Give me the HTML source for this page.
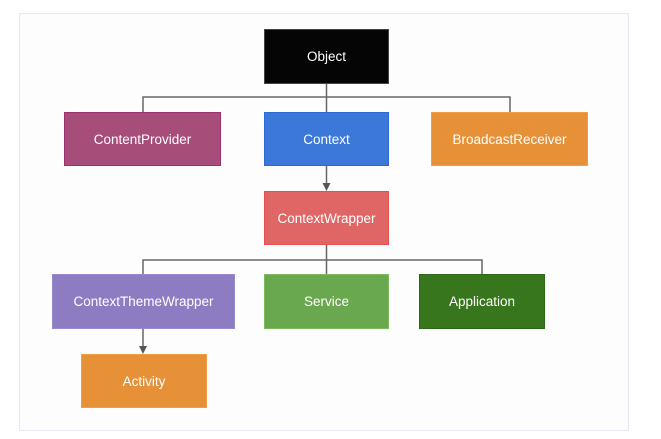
<!DOCTYPE html>
<html><head><meta charset="utf-8"><style>
body{margin:0;width:661px;height:439px;background:#fff;position:relative;overflow:hidden;font-family:"Liberation Sans",Arial,sans-serif}
.f{position:absolute;left:19px;top:13px;width:610px;height:418px;border:1px solid #e6e9f4;background:#fdfdfd;box-sizing:border-box}
.b{position:absolute;box-sizing:border-box;color:#fff;font-size:13.5px;display:flex;align-items:center;justify-content:center;border:1px solid rgba(0,0,0,.15)}
svg{position:absolute;left:0;top:0}
</style></head><body>
<div class="f"></div>
<svg width="661" height="439">
<g stroke="#666" stroke-width="1.5" fill="none">
<path d="M326.5 84V112M143 112V97H510V112"/>
<path d="M326.5 166V185"/>
<path d="M326.5 245V274M143 274V260H482V274"/>
<path d="M143 328.5V347"/>
</g>
<path d="M322.5 183L330.5 183L326.5 191Z" fill="#555"/>
<path d="M139 346L147 346L143 354Z" fill="#555"/>
</svg>
<div class="b" style="left:264px;top:29px;width:125px;height:55px;background:#050505;border-color:#444">Object</div>
<div class="b" style="left:64px;top:112px;width:157px;height:54px;background:#a64d79;border-color:#9c2f6c">ContentProvider</div>
<div class="b" style="left:264px;top:112px;width:125px;height:54px;background:#3c78d8;border-color:#2a6ad8">Context</div>
<div class="b" style="left:431px;top:112px;width:157px;height:54px;background:#e69138;border-color:#f0a040">BroadcastReceiver</div>
<div class="b" style="left:264px;top:191px;width:125px;height:54px;background:#e06666;border-color:#e85050">ContextWrapper</div>
<div class="b" style="left:52px;top:274px;width:183px;height:55px;background:#8e7cc3;border-color:#9a88d0">ContextThemeWrapper</div>
<div class="b" style="left:264px;top:274px;width:125px;height:55px;background:#6aa84f;border-color:#7cbc5e">Service</div>
<div class="b" style="left:419px;top:274px;width:126px;height:55px;background:#38761d;border-color:#2a6a14">Application</div>
<div class="b" style="left:81px;top:354px;width:126px;height:54px;background:#e69138;border-color:#f0a040">Activity</div>
</body></html>
